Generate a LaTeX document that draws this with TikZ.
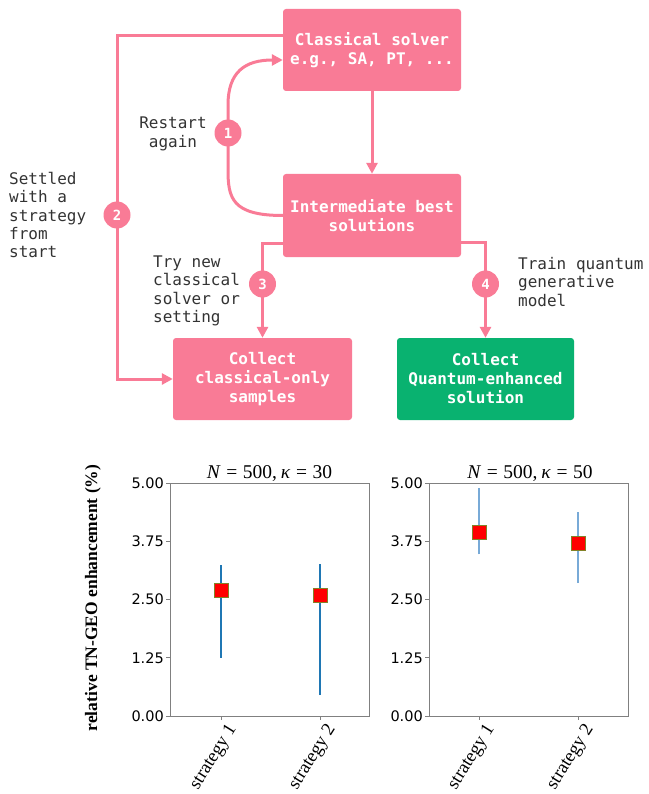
\documentclass[tikz,border=0pt]{standalone}
\usepackage{fontspec}
\newfontfamily\monof{DejaVu Sans Mono}
\newfontfamily\tickf{DejaVu Sans}
\newfontfamily\serf{Liberation Serif}
\usetikzlibrary{arrows.meta,calc}
\definecolor{pinkc}{RGB}{249,123,150}
\definecolor{greenc}{RGB}{9,178,112}
\definecolor{labc}{RGB}{51,51,51}
\definecolor{barA}{RGB}{31,119,180}
\definecolor{barB}{RGB}{120,170,215}
\definecolor{spinec}{RGB}{128,128,128}
\definecolor{edgec}{RGB}{130,130,40}
\newcommand{\ttlsp}{\hspace{5.5pt}}
\begin{document}
\begin{tikzpicture}[x=1pt,y=-1pt,
  box/.style={fill=#1, rounded corners=3pt, text=white, font=\monof\bfseries\fontsize{16}{19}\selectfont, align=center, inner sep=0pt},
  lab/.style={text=labc, font=\monof\fontsize{16}{18.3}\selectfont, inner sep=0pt},
  conn/.style={draw=pinkc, line width=3pt, -{Triangle[length=11pt,width=11pt]}},
  num/.style={circle, fill=pinkc, minimum size=27pt, inner sep=0pt, text=white, font=\monof\bfseries\fontsize{14}{14}\selectfont},
  spine/.style={draw=spinec, line width=0.9pt},
  tickl/.style={anchor=east, inner sep=0pt, font=\tickf\fontsize{14.5}{15}\selectfont},
  xtl/.style={anchor=north east, rotate=58, inner sep=0pt, font=\serf\fontsize{18.5}{18.5}\selectfont},
  ttl/.style={anchor=base, inner sep=0pt, font=\serf\fontsize{19.5}{20}\selectfont},
  sqmark/.style={draw=edgec, fill=red, line width=0.6pt},
]
\useasboundingbox (0,0) rectangle (648,794);

% boxes
\node[box=pinkc, minimum width=178pt, minimum height=82pt] (cs) at (372,50) {Classical solver\\e.g., SA, PT, ...};
\node[box=pinkc, minimum width=178pt, minimum height=83pt] (inter) at (372,215.5) {Intermediate best\\solutions};
\node[box=pinkc, minimum width=179pt, minimum height=82pt] (cc) at (262.5,379) {Collect\\classical-only\\samples};
\node[box=greenc, minimum width=177pt, minimum height=82pt] (qe) at (485.5,379) {Collect\\Quantum-enhanced\\solution};

% connectors
\draw[conn] (cs.south) -- (inter.north);
\draw[conn] (inter.west) .. controls (232,215.5) and (228,198) .. (228,170) -- (228,105) .. controls (228,72) and (245,60) .. ([yshift=-10pt]cs.west);
\coordinate (k2) at (117,0);
\draw[conn] ([yshift=14pt]cs.west) -| (k2 |- cc.west) -- (cc.west);
\draw[conn] ([yshift=-27.5pt]inter.west) -| (cc.north);
\draw[conn] ([yshift=-26.5pt]inter.east) -| (qe.north);

% numbered circles
\node[num] (n1) at (228,133) {1};
\node[num] (n2) at (117,215) {2};
\node[num] (n3) at (262.5,284) {3};
\node[num] (n4) at (485.5,284) {4};

% labels
\node[lab, align=center] (l1) at (173,134) {Restart\\again};
\node[lab, align=left, anchor=west] (l2) at (9,215) {Settled\\with a\\strategy\\from\\start};
\node[lab, align=left, anchor=west] (l3) at (153,291) {Try new\\classical\\solver or\\setting};
\node[lab, align=left, anchor=west] (l4) at (518,282) {Train quantum\\generative\\model};

% ---------- plots ----------
\node[rotate=90, inner sep=0pt, font=\serf\bfseries\fontsize{17.5}{17.5}\selectfont] (ylab) at (93,598) {relative TN-GEO enhancement (\%)};

% left plot
\draw[spine] (170,483) rectangle (369,716);
\foreach \v/\t in {0/0.00,1.25/1.25,2.5/2.50,3.75/3.75,5/5.00}{
  \draw[spine] (170,{716-\v*46.6}) -- (166,{716-\v*46.6});
  \node[tickl] at (164,{716-\v*46.6}) {\t};
}
\draw[spine] (221,716) -- (221,720);
\draw[spine] (320,716) -- (320,720);
\node[xtl] at (226,722) {strategy 1};
\node[xtl] at (325,722) {strategy 2};
\node[ttl] at (269.5,478) {\textit{N}\ttlsp=\ttlsp500,\hspace{4pt}\textit{κ}\ttlsp=\ttlsp30};
\draw[barA, line width=1.3pt] (221,{716-1.25*46.6}) -- (221,{716-3.25*46.6});
\draw[barA, line width=1.3pt] (320,{716-0.45*46.6}) -- (320,{716-3.27*46.6});
\draw[sqmark] (214,{716-2.70*46.6-7}) rectangle ++(14,14);
\draw[sqmark] (313,{716-2.58*46.6-7}) rectangle ++(14,14);

% right plot
\draw[spine] (429,483) rectangle (628,716);
\foreach \v/\t in {0/0.00,1.25/1.25,2.5/2.50,3.75/3.75,5/5.00}{
  \draw[spine] (429,{716-\v*46.6}) -- (425,{716-\v*46.6});
  \node[tickl] at (423,{716-\v*46.6}) {\t};
}
\draw[spine] (479,716) -- (479,720);
\draw[spine] (578,716) -- (578,720);
\node[xtl] at (484,722) {strategy 1};
\node[xtl] at (583,722) {strategy 2};
\node[ttl] at (530,478) {\textit{N}\ttlsp=\ttlsp500,\hspace{4pt}\textit{κ}\ttlsp=\ttlsp50};
\draw[barB, line width=1.3pt] (479,{716-3.47*46.6}) -- (479,{716-4.90*46.6});
\draw[barB, line width=1.3pt] (578,{716-2.85*46.6}) -- (578,{716-4.37*46.6});
\draw[sqmark] (472,{716-3.94*46.6-7}) rectangle ++(14,14);
\draw[sqmark] (571,{716-3.71*46.6-7}) rectangle ++(14,14);
\end{tikzpicture}
\end{document}
